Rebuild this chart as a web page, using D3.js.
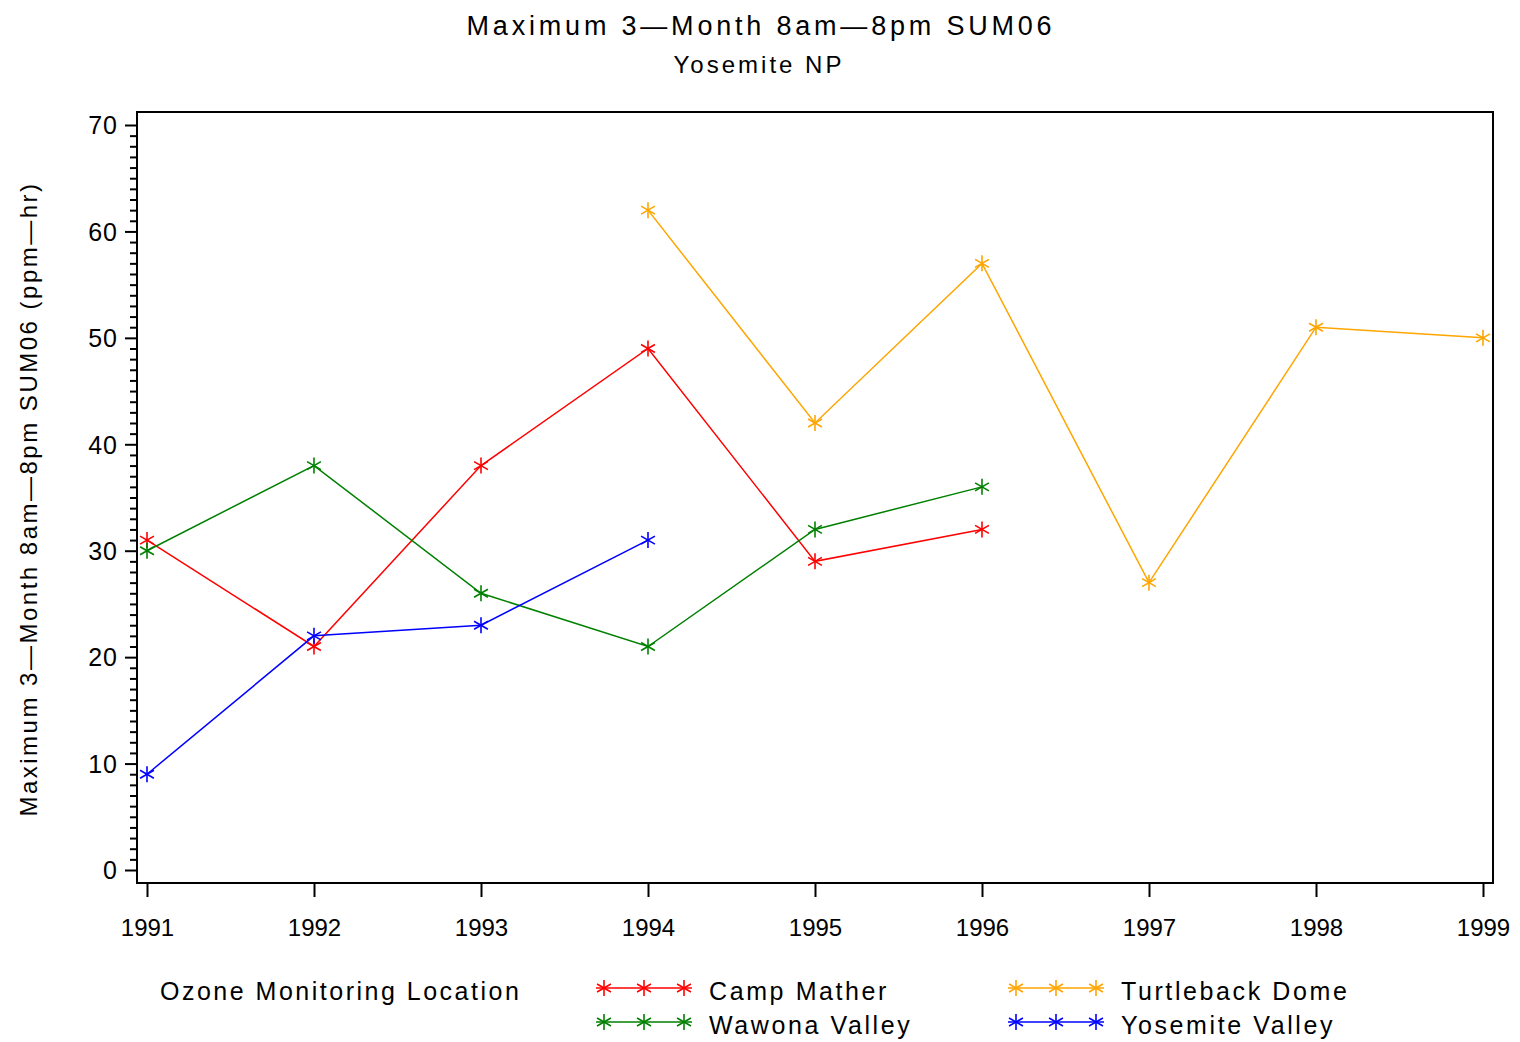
<!DOCTYPE html>
<html>
<head>
<meta charset="utf-8">
<script src="https://cdn.jsdelivr.net/npm/d3@7"></script>
<style>
  html, body { margin: 0; padding: 0; background: #fff; }
  svg text { font-family: "Liberation Sans", Arial, sans-serif; fill: #000; }
</style>
</head>
<body>
<svg id="chart" width="1520" height="1042"></svg>
<script>
// Yearly maximum 3-month 8am-8pm SUM06 (ppm-hr) per monitoring site
const years = [1991, 1992, 1993, 1994, 1995, 1996, 1997, 1998, 1999];
const campMather     = [[1991, 31], [1992, 21], [1993, 38], [1994, 49], [1995, 29], [1996, 32]];
const wawonaValley   = [[1991, 30], [1992, 38], [1993, 26], [1994, 21], [1995, 32], [1996, 36]];
const turtlebackDome = [[1994, 62], [1995, 42], [1996, 57], [1997, 27], [1998, 51], [1999, 50]];
const yosemiteValley = [[1991, 9], [1992, 22], [1993, 23], [1994, 31]];
const yTicks = [0, 10, 20, 30, 40, 50, 60, 70];

const seriesNames  = ["Camp Mather", "Wawona Valley", "Turtleback Dome", "Yosemite Valley"];
const seriesColors = ["#ff0000", "#008000", "#ffa500", "#0000ff"];
const seriesData   = [campMather, wawonaValley, turtlebackDome, yosemiteValley];

const svg = d3.select("#chart");
const frame = { left: 137, right: 1493, top: 112, bottom: 883 };

const x = d3.scaleLinear().domain([1991, 1999]).range([147, 1483]);
const y = d3.scaleLinear().domain([0, 70]).range([870, 125]);

// Titles
svg.append("text").attr("x", 761).attr("y", 35).attr("text-anchor", "middle")
  .attr("font-size", 27).attr("letter-spacing", 3.8)
  .text("Maximum 3\u2014Month 8am\u20148pm SUM06");
svg.append("text").attr("x", 759).attr("y", 73).attr("text-anchor", "middle")
  .attr("font-size", 24).attr("letter-spacing", 3)
  .text("Yosemite NP");

// Y axis: major every 10, minor every 1
const yAxis = d3.axisLeft(y).tickValues(yTicks).tickSize(12).tickPadding(7).tickFormat(d3.format("d"));
const yMinor = d3.axisLeft(y).tickValues(d3.range(0, 71, 1).filter(v => v % 10 !== 0))
  .tickSize(7).tickFormat("");
const gyMinor = svg.append("g").attr("transform", `translate(${frame.left},0)`).call(yMinor);
const gy = svg.append("g").attr("transform", `translate(${frame.left},0)`).call(yAxis);
[gy, gyMinor].forEach(g => {
  g.select(".domain").remove();
  g.selectAll("line").attr("stroke", "#000").attr("stroke-width", 2);
});
gy.selectAll("text").attr("font-size", 25).attr("dy", "0.35em").attr("letter-spacing", 1);

// X axis
const xAxis = d3.axisBottom(x).tickValues(years).tickSize(14).tickPadding(22).tickFormat(d3.format("d"));
const gx = svg.append("g").attr("transform", `translate(0,${frame.bottom})`).call(xAxis);
gx.select(".domain").remove();
gx.selectAll("line").attr("stroke", "#000").attr("stroke-width", 2);
gx.selectAll("text").attr("font-size", 24).attr("letter-spacing", 0);

// Plot frame
svg.append("rect").attr("x", frame.left).attr("y", frame.top)
  .attr("width", frame.right - frame.left).attr("height", frame.bottom - frame.top)
  .attr("fill", "none").attr("stroke", "#000").attr("stroke-width", 2);

// Y axis title
svg.append("text")
  .attr("transform", "translate(37,499) rotate(-90)")
  .attr("text-anchor", "middle").attr("font-size", 24).attr("letter-spacing", 2.5)
  .text("Maximum 3\u2014Month 8am\u20148pm SUM06 (ppm\u2014hr)");

// Asterisk marker
function star(g, cx, cy, color, r) {
  const arms = [90, 30, 150];
  arms.forEach(a => {
    const rad = a * Math.PI / 180;
    g.append("line")
      .attr("x1", cx - r * Math.cos(rad)).attr("y1", cy - r * Math.sin(rad))
      .attr("x2", cx + r * Math.cos(rad)).attr("y2", cy + r * Math.sin(rad))
      .attr("stroke", color).attr("stroke-width", 1.6);
  });
}

const line = d3.line().x(d => x(d[0])).y(d => y(d[1]));
seriesData.forEach((data, i) => {
  const g = svg.append("g");
  g.append("path").datum(data).attr("d", line)
    .attr("fill", "none").attr("stroke", seriesColors[i]).attr("stroke-width", 1.5);
  data.forEach(d => star(g, x(d[0]), y(d[1]), seriesColors[i], 8));
});

// Legend
svg.append("text").attr("x", 160).attr("y", 1000).attr("font-size", 25).attr("letter-spacing", 2.5)
  .text("Ozone Monitoring Location");
const legendPos = [[596, 988], [596, 1022], [1008, 988], [1008, 1022]];
seriesNames.forEach((name, i) => {
  const [lx, ly] = legendPos[i];
  const g = svg.append("g");
  g.append("line").attr("x1", lx).attr("x2", lx + 96).attr("y1", ly).attr("y2", ly)
    .attr("stroke", seriesColors[i]).attr("stroke-width", 1.5);
  [lx + 8, lx + 48, lx + 88].forEach(px => star(g, px, ly, seriesColors[i], 8));
  g.append("text").attr("x", lx + 113).attr("y", ly + 12).attr("font-size", 25).attr("letter-spacing", 2.6)
    .text(name);
});
</script>
</body>
</html>
